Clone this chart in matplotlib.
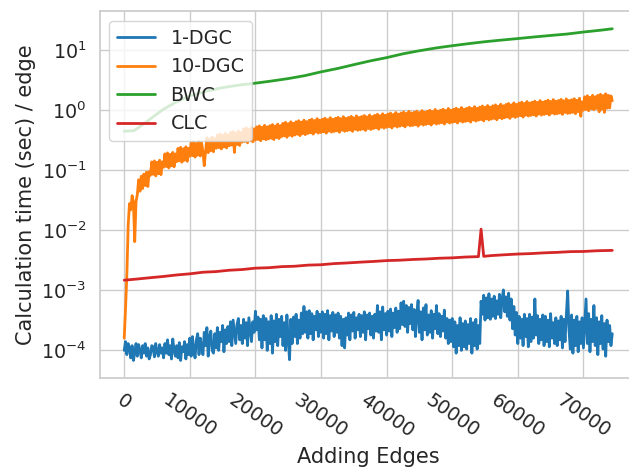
import numpy as np
import matplotlib
matplotlib.use("Agg")
import matplotlib.pyplot as plt
import seaborn as sns

# ---- measured timings -------------------------------------------------------
# 1-DGC and 10-DGC are sampled every 200 added edges (one row = 2000 edges)
step_edges = 200

# 1-DGC, seconds per edge (in units of 1e-4 s)
dgc1_e4 = [
    1.0, 1.4, 0.85, 1.3, 1.1, 0.75, 1.2, 0.68, 0.9, 1.3,
    0.8, 1.25, 1.0, 0.75, 1.2, 0.9, 1.3, 0.8, 1.1, 0.72,
    0.85, 1.2, 1.15, 0.78, 1.3, 0.95, 0.8, 1.25, 0.9, 1.1,
    0.75, 1.3, 0.9, 1.5, 0.85, 1.2, 0.72, 1.55, 1.0, 0.8,
    1.2, 0.75, 1.35, 0.68, 1.15, 0.95, 1.4, 0.72, 1.25, 0.85,
    1.6, 0.8, 1.7, 1.0, 0.75, 1.5, 1.9, 0.85, 1.6, 1.1,
    0.85, 2.0, 1.2, 2.4, 0.8, 1.7, 2.1, 1.0, 0.9, 1.9,
    1.1, 2.4, 1.0, 2.0, 1.4, 2.6, 0.95, 2.2, 1.3, 2.5,
    1.4, 3.0, 1.2, 3.2, 2.0, 1.3, 2.7, 3.4, 1.5, 2.6,
    1.3, 3.3, 1.6, 2.9, 1.2, 3.5, 2.2, 1.4, 3.0, 2.0,
    4.5, 2.2, 3.6, 1.5, 3.3, 1.1, 3.8, 1.5, 3.4, 1.0,
    3.0, 1.3, 3.8, 0.9, 3.1, 1.4, 4.0, 1.2, 3.3, 1.7,
    3.7, 1.2, 2.9, 1.0, 3.9, 1.5, 0.7, 3.3, 1.3, 3.6,
    1.7, 4.0, 1.3, 3.2, 1.6, 4.2, 1.9, 5.4, 2.0, 4.4,
    1.6, 4.6, 1.9, 4.1, 1.5, 3.7, 2.2, 4.5, 1.7, 4.0,
    2.0, 4.4, 1.6, 4.0, 1.9, 4.6, 1.5, 3.8, 2.1, 4.3,
    1.7, 3.9, 2.0, 4.2, 1.6, 3.7, 1.2, 3.3, 1.1, 3.5,
    1.8, 4.2, 1.5, 3.9, 2.1, 4.3, 1.6, 3.5, 2.2, 4.0,
    1.7, 3.8, 2.0, 4.4, 1.5, 3.9, 2.3, 4.2, 1.8, 3.7,
    1.6, 4.0, 2.1, 5.6, 2.0, 4.4, 1.5, 5.3, 2.2, 4.1,
    1.8, 4.5, 2.1, 4.9, 1.7, 4.2, 2.4, 5.1, 2.0, 4.5,
    2.3, 6.2, 2.7, 6.6, 2.5, 5.6, 2.0, 5.2, 2.8, 5.8,
    2.2, 4.8, 1.7, 4.1, 6.8, 2.0, 4.4, 1.5, 5.1, 2.2,
    5.8, 1.8, 3.9, 2.0, 4.6, 1.6, 4.0, 2.3, 5.6, 1.9,
    4.1, 1.7, 3.7, 2.1, 4.7, 1.6, 3.4, 1.3, 3.2, 1.4,
    3.4, 1.15, 3.0, 0.9, 2.6, 1.2, 3.5, 1.0, 2.8, 1.15,
    3.1, 1.05, 2.7, 1.3, 3.4, 0.9, 2.9, 1.2, 3.3, 1.05,
    2.6, 1.3, 6.6, 4.0, 8.3, 3.2, 7.5, 3.5, 8.8, 3.3,
    7.2, 3.7, 8.0, 3.4, 6.7, 4.0, 8.6, 3.5, 7.2, 10.2,
    4.4, 7.8, 3.7, 9.0, 3.2, 7.2, 2.3, 5.4, 1.8, 4.3,
    1.3, 3.7, 1.6, 3.3, 1.2, 4.0, 1.7, 3.4, 1.15, 4.0,
    1.4, 3.6, 1.6, 7.2, 1.8, 3.8, 1.3, 3.3, 1.5, 3.9,
    1.2, 3.7, 1.4, 3.2, 1.15, 4.1, 1.6, 2.9, 1.3, 3.5,
    1.2, 3.1, 1.5, 3.7, 1.1, 3.3, 1.4, 3.9, 9.8, 2.2,
    1.05, 3.9, 0.9, 3.2, 1.2, 3.7, 0.95, 3.0, 1.3, 3.5,
    1.1, 2.9, 7.2, 1.3, 4.1, 0.95, 3.3, 1.4, 5.6, 1.2,
    3.5, 0.85, 3.0, 1.3, 3.8, 1.05, 2.8, 0.8, 3.2, 1.4,
    2.6, 1.2, 1.9,
]

# 10-DGC, seconds per edge
dgc10 = [
    0.00016, 0.0005, 0.0018, 0.012, 0.028, 0.022, 0.038, 0.03, 0.0065, 0.03,
    0.04, 0.07, 0.045, 0.08, 0.05, 0.087, 0.056, 0.094, 0.054, 0.095,
    0.083, 0.139, 0.086, 0.144, 0.081, 0.137, 0.088, 0.148, 0.085, 0.139,
    0.113, 0.189, 0.116, 0.196, 0.11, 0.186, 0.119, 0.2, 0.115, 0.189,
    0.14, 0.234, 0.144, 0.243, 0.137, 0.23, 0.148, 0.248, 0.142, 0.234,
    0.172, 0.286, 0.176, 0.297, 0.167, 0.282, 0.18, 0.304, 0.174, 0.286,
    0.203, 0.12, 0.208, 0.351, 0.198, 0.333, 0.213, 0.359, 0.205, 0.338,
    0.234, 0.39, 0.24, 0.405, 0.228, 0.384, 0.246, 0.414, 0.237, 0.39,
    0.257, 0.429, 0.264, 0.446, 0.2, 0.422, 0.271, 0.455, 0.261, 0.429,
    0.296, 0.494, 0.304, 0.513, 0.289, 0.486, 0.312, 0.524, 0.3, 0.494,
    0.32, 0.533, 0.328, 0.554, 0.312, 0.525, 0.336, 0.566, 0.324, 0.533,
    0.335, 0.559, 0.344, 0.581, 0.327, 0.55, 0.353, 0.593, 0.34, 0.559,
    0.367, 0.611, 0.376, 0.635, 0.357, 0.602, 0.385, 0.649, 0.371, 0.611,
    0.39, 0.65, 0.4, 0.675, 0.38, 0.64, 0.41, 0.69, 0.395, 0.65,
    0.413, 0.689, 0.424, 0.716, 0.403, 0.678, 0.435, 0.731, 0.419, 0.689,
    0.429, 0.715, 0.44, 0.743, 0.418, 0.704, 0.451, 0.759, 0.435, 0.715,
    0.445, 0.741, 0.456, 0.77, 0.433, 0.73, 0.467, 0.787, 0.45, 0.741,
    0.46, 0.767, 0.472, 0.797, 0.448, 0.755, 0.484, 0.814, 0.466, 0.767,
    0.476, 0.793, 0.488, 0.824, 0.464, 0.781, 0.5, 0.842, 0.482, 0.793,
    0.499, 0.832, 0.512, 0.864, 0.486, 0.819, 0.525, 0.883, 0.506, 0.832,
    0.523, 0.871, 0.536, 0.905, 0.509, 0.858, 0.549, 0.925, 0.529, 0.871,
    0.546, 0.91, 0.56, 0.945, 0.532, 0.896, 0.574, 0.966, 0.553, 0.91,
    0.562, 0.936, 0.576, 0.972, 0.547, 0.922, 0.59, 0.994, 0.569, 0.936,
    0.585, 0.975, 0.6, 1.01, 0.57, 0.96, 0.615, 1.04, 0.593, 0.975,
    0.608, 1.01, 0.624, 1.05, 0.593, 1.0, 0.64, 1.08, 0.616, 1.01,
    0.632, 1.05, 0.648, 1.09, 0.616, 1.04, 0.664, 1.12, 0.64, 1.05,
    0.655, 1.09, 0.672, 1.13, 0.638, 1.08, 0.689, 1.16, 0.664, 1.09,
    0.686, 1.14, 0.704, 1.19, 0.669, 1.13, 0.722, 1.21, 0.695, 1.14,
    0.718, 1.2, 0.736, 1.24, 0.699, 1.18, 0.754, 1.27, 0.727, 1.2,
    0.757, 1.26, 0.776, 1.31, 0.737, 1.24, 0.795, 1.34, 0.766, 1.26,
    0.796, 1.33, 0.816, 1.38, 0.775, 1.31, 0.836, 1.41, 0.806, 1.33,
    0.827, 1.38, 0.848, 1.43, 0.806, 1.36, 0.869, 1.46, 0.837, 1.38,
    0.858, 1.43, 0.88, 1.49, 0.836, 1.41, 0.902, 1.52, 0.869, 1.43,
    0.881, 1.47, 0.904, 1.53, 0.859, 1.45, 0.927, 1.56, 0.893, 1.47,
    0.905, 1.51, 0.928, 1.57, 0.882, 1.48, 0.951, 1.6, 0.8, 1.4,
    1.01, 1.69, 1.04, 1.76, 0.988, 1.66, 1.07, 1.79, 1.03, 1.69,
    1.08, 1.79, 0.95, 1.86, 1.05, 1.77, 0.93, 1.9, 1.09, 1.79,
    1.1, 1.75, 1.45,
]

# BWC, seconds per edge
bwc_edges = [0, 1500, 3000, 4500, 6000, 8000, 10000, 12500, 15000, 17500,
             20000, 22500, 25000, 27500, 30000, 32500, 35000, 37500, 40000,
             42500, 45000, 47500, 50000, 52500, 55000, 57500, 60000, 62500,
             65000, 67500, 70000, 72500, 74400]
bwc = [0.45, 0.46, 0.6, 0.8, 1.05, 1.4, 1.75, 2.1, 2.4, 2.65,
       2.85, 3.1, 3.4, 3.8, 4.4, 5.0, 5.8, 6.7, 7.6,
       8.8, 9.9, 11.0, 12.0, 13.0, 14.0, 14.9, 15.8, 16.8,
       17.8, 18.8, 20.3, 21.7, 23.0]

# CLC, seconds per edge (in units of 1e-3 s)
clc_edges = [0, 2000, 4000, 6000, 8000, 10000, 12000, 14000, 16000, 18000,
             20000, 22000, 24000, 26000, 28000, 30000, 32000, 34000, 36000,
             38000, 40000, 42000, 44000, 46000, 48000, 50000, 52000, 54000,
             54400, 54800, 56000, 58000, 60000, 62000, 64000, 66000, 68000,
             70000, 72000, 74400]
clc_e3 = [1.48, 1.55, 1.63, 1.71, 1.81, 1.89, 2.01, 2.06, 2.17, 2.23,
          2.35, 2.39, 2.49, 2.53, 2.64, 2.68, 2.80, 2.87, 2.96,
          3.04, 3.14, 3.19, 3.28, 3.34, 3.44, 3.49, 3.60, 3.66,
          10.5, 3.70, 3.81, 3.93, 4.04, 4.11, 4.23, 4.31, 4.43,
          4.46, 4.58, 4.65]

# ---- figure -------------------------------------------------------------------
sns.set_theme(style="whitegrid", font_scale=1.25, palette="tab10")
plt.rcParams["lines.linewidth"] = 2.0

fig = plt.figure(figsize=(6.29, 4.67), dpi=100)
ax = fig.add_axes([0.1587, 0.1906, 1.0122 - 0.1587, 0.9754 - 0.1906])

ax.plot(np.arange(len(dgc1_e4)) * step_edges, np.array(dgc1_e4) * 1e-4,
        label="1-DGC")
ax.plot(np.arange(len(dgc10)) * step_edges, dgc10, label="10-DGC")
ax.plot(bwc_edges, bwc, label="BWC")
ax.plot(clc_edges, np.array(clc_e3) * 1e-3, label="CLC")

ax.set_yscale("log")
ax.set_ylim(10 ** -4.46, 10 ** 1.65)
ax.set_xlim(-3720, 78120)
ax.set_xticks(np.arange(0, 70001, 10000))
plt.setp(ax.get_xticklabels(), rotation=-35)

ax.set_xlabel("Adding Edges")
ax.set_ylabel("Calculation time (sec) / edge")
ax.legend(loc="upper left")

fig.savefig("out.png", dpi=100)
